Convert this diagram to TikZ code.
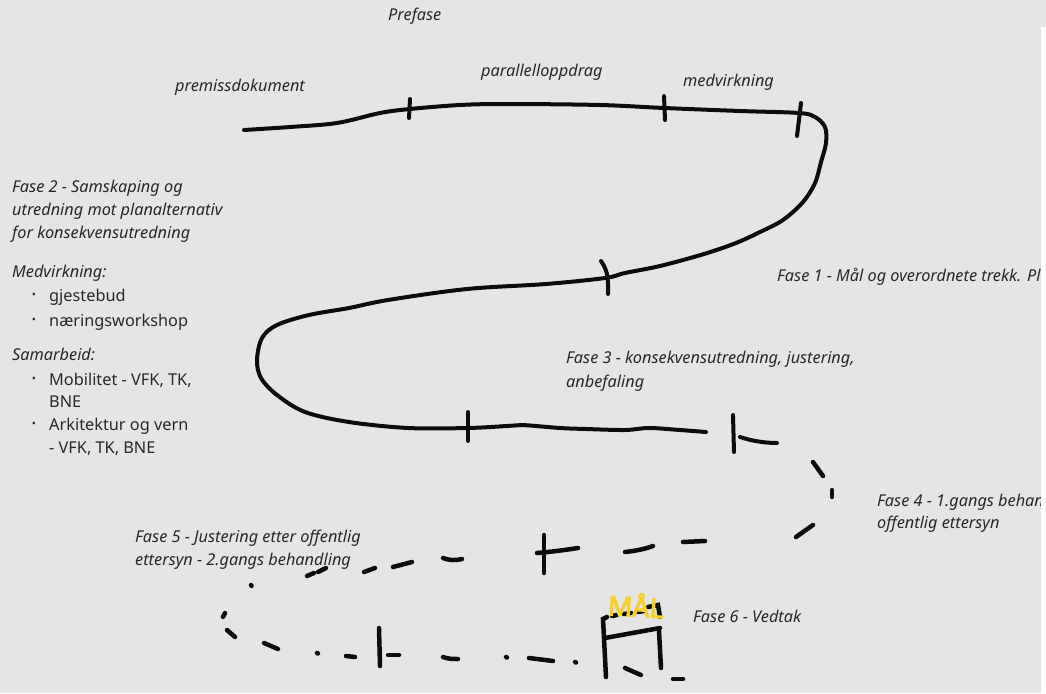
\documentclass[tikz,border=0pt]{standalone}
\usepackage{fontspec}
\setmainfont{Noto Sans}
\newfontfamily\malfont[FakeBold=4]{Noto Sans}
\definecolor{bg}{RGB}{229,229,229}
\definecolor{txt}{RGB}{40,40,40}
\definecolor{ink}{RGB}{12,12,12}
\definecolor{gold}{RGB}{247,208,45}
\begin{document}
\begin{tikzpicture}[x=1pt,y=-1pt,
  lbl/.style={font=\fontsize{16.3}{23}\selectfont\itshape, text=txt, anchor=base west, inner sep=0pt},
  body/.style={font=\fontsize{16.3}{23}\selectfont, text=txt, anchor=base west, inner sep=0pt},
  bul/.style={font=\fontsize{11}{10}\selectfont, text=txt, anchor=center, inner sep=0pt},
  pen/.style={draw=ink, line width=4pt, line cap=round, line join=round},
  dsh/.style={draw=ink, line width=4.5pt, line cap=round}]
\fill[bg] (0,0) rectangle (1046,693);
\useasboundingbox (0,0) rectangle (1046,693);

% solid path
\draw[pen] plot[smooth, tension=0.55] coordinates {
(244,130) (290,127) (337,123) (380,113) (410,109) (460,105) (507,104) (600,105) (664,108) (740,111) (799,113) (815,117) (825,127) (826,143) (821,162) (815,183) (803,202) (783,220) (760,232) (736,243) (704,254) (660,266) (625,273) (605,278) (546,284) (467,289) (388,300) (349,308) (309,315) (277,325) (262,338) (257,360) (261,378) (277,395) (305,412) (349,422) (408,428) (468,428) (507,426) (522,425) (560,428) (586,429) (625,430) (649,428) (680,430) (706,432)};
% ticks on solid
\draw[pen] (410,99) -- (409,118);
\draw[pen] (664,96) -- (665,120);
\draw[pen] (801,103) -- (797,136);
\draw[pen] (601,261) .. controls (609,272) and (608,282) .. (608,294);
\draw[pen] (468,412) -- (468,441);
\draw[pen] (733,415) -- (734,452);
\draw[pen] (740,437) .. controls (752,441) and (765,443) .. (777,443);

% dashed continuation
\draw[dsh] (813,462) -- (823,476);
\draw[dsh] (832,490) -- (832,497);
\draw[dsh] (796,537) -- (813,525);
\draw[dsh] (683,542) -- (705,541);
\draw[dsh] (625,552) .. controls (635,551) and (645,549) .. (653,546);
\draw[dsh] (544,535) -- (544,573);
\draw[dsh] (537,553) .. controls (550,552) and (565,550) .. (578,548);
\draw[dsh] (443,558) .. controls (448,560) and (455,561) .. (462,559);
\draw[dsh] (393,567) -- (412,562);
\draw[dsh] (364,572) -- (375,568);
\draw[dsh] (318,572) -- (326,568);
\draw[dsh] (307,576) -- (314,573);
\draw[dsh] (251,585) -- (251.5,586);
\draw[dsh] (223,617) -- (225,613);
\draw[dsh] (227,630) -- (235,637);
\draw[dsh] (264,643) -- (278,649);
\draw[dsh] (317,653) -- (318,653.5);
\draw[dsh] (346,656) -- (355,657);
\draw[dsh] (379,628) -- (380,666);
\draw[dsh] (388,655) -- (399,655);
\draw[dsh] (443,657) .. controls (448,659) and (453,659) .. (458,659);
\draw[dsh] (506,657) -- (507,657.5);
\draw[dsh] (529,658) -- (553,661);
\draw[dsh] (575,662) -- (576,662.5);
% box
\draw[dsh] (607,617) -- (603,619) -- (606,677);
\draw[dsh] (612,616) -- (617,615);
\draw[dsh] (624,614) -- (631,613);
\draw[dsh] (638,612) -- (644,611);
\draw[dsh] (648,607) -- (658,605) -- (660,617);
\draw[dsh] (605,638) -- (660,628);
\draw[dsh] (659,631) -- (661,668);
\draw[dsh] (625,668) -- (641,675);
\draw[dsh] (673,679) -- (683,679);

% MAL
\node[font=\fontsize{27}{27}\malfont, text=gold, inner sep=0pt, rotate=-3] (mal) at (636,605) {MÅL};

% texts
\node[lbl] (prefase) at (388,21) {Prefase};
\node[lbl] (premiss) at (175,91) {premissdokument};
\node[lbl] (parallell) at (481,77) {parallelloppdrag};
\node[lbl] (medv) at (683,86) {medvirkning};

\node[lbl] (f2a) at (12,192) {Fase 2 - Samskaping og};
\node[lbl] (f2b) at (12,215) {utredning mot planalternativ};
\node[lbl] (f2c) at (12,238) {for konsekvensutredning};
\node[lbl] (medvh) at (12,277) {Medvirkning:};
\node[bul] (b1) at (34,296) {•};
\node[body] (l1) at (49,301) {gjestebud};
\node[bul] (b2) at (34,321) {•};
\node[body] (l2) at (49,326) {næringsworkshop};
\node[lbl] (samh) at (12,360) {Samarbeid:};
\node[bul] (b3) at (34,380) {•};
\node[body] (l3) at (49,385) {Mobilitet - VFK, TK,};
\node[body] (l3b) at (49,407) {BNE};
\node[bul] (b4) at (34,425) {•};
\node[body] (l4) at (49,430) {Arkitektur og vern};
\node[body] (l4b) at (49,453) {- VFK, TK, BNE};

\node[lbl] (f1) at (777,281) {Fase 1 - Mål og overordnete trekk. Pl};
\node[lbl] (f3a) at (566,363) {Fase 3 - konsekvensutredning, justering,};
\node[lbl] (f3b) at (566,387) {anbefaling};
\node[lbl] (f4a) at (877,506) {Fase 4 - 1.gangs behan};
\node[lbl] (f4b) at (877,528) {offentlig ettersyn};
\node[lbl] (f5a) at (135,542) {Fase 5 - Justering etter offentlig};
\node[lbl] (f5b) at (135,565) {ettersyn - 2.gangs behandling};
\node[lbl] (f6) at (693,622) {Fase 6 - Vedtak};

\fill[white] (1041,27) rectangle (1046,693);
\end{tikzpicture}
\end{document}
